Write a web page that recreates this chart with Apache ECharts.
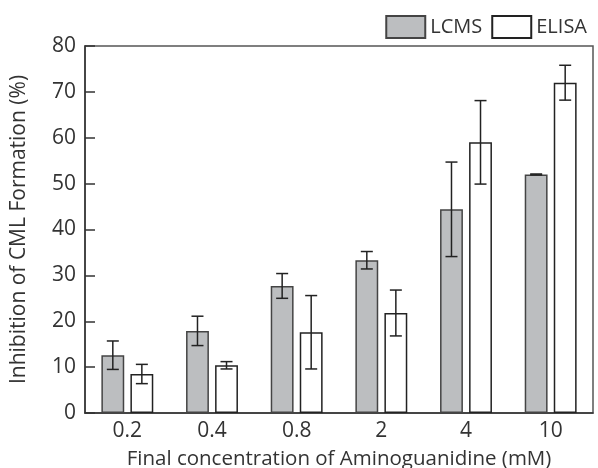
<!DOCTYPE html>
<html>
<head>
<meta charset="utf-8">
<script src="https://cdn.jsdelivr.net/npm/echarts@6/dist/echarts.min.js"></script>
<style>
  html, body { margin: 0; padding: 0; background: #fff; }
  #main { width: 598px; height: 468px; }
</style>
</head>
<body>
<div id="main"></div>
<script>
'use strict';

var categories = ['0.2', '0.4', '0.8', '2', '4', '10'];
var lcmsValues = [12.6, 17.9, 27.7, 33.3, 44.4, 52.0];
var lcmsErrors = [3.1, 3.2, 2.7, 1.9, 10.3, 0.1];
var elisaValues = [8.5, 10.4, 17.6, 21.8, 59.0, 72.0];
var elisaErrors = [2.1, 0.8, 8.0, 5.0, 9.1, 3.8];

var BAR_FRAC = 0.27;
var GAP_FRAC = 0.27;
var fontFam = '"Open Sans", "Noto Sans", sans-serif';

var errData = function (vals, errs, side) {
    var res = [];
    for (var i = 0; i < vals.length; i++) {
        res.push([i, vals[i], errs[i], side]);
    }
    return res;
};

var renderError = function (params, api) {
    var idx = api.value(0);
    var val = api.value(1);
    var err = api.value(2);
    var side = api.value(3);
    var band = api.size([1, 0])[0];
    var w = band * BAR_FRAC;
    var off = side * (w + w * GAP_FRAC) / 2;
    var hi = api.coord([idx, val + err]);
    var lo = api.coord([idx, val - err]);
    var x = hi[0] + off;
    var cap = 6;
    var style = { stroke: '#222', lineWidth: 1.5 };
    return {
        type: 'group',
        children: [
            { type: 'line', shape: { x1: x, y1: hi[1], x2: x, y2: lo[1] }, style: style },
            { type: 'line', shape: { x1: x - cap, y1: hi[1], x2: x + cap, y2: hi[1] }, style: style },
            { type: 'line', shape: { x1: x - cap, y1: lo[1], x2: x + cap, y2: lo[1] }, style: style }
        ]
    };
};

var myChart = echarts.init(document.getElementById('main'));

var option = {
    backgroundColor: '#fff',
    animation: false,
    textStyle: { fontFamily: fontFam },
    legend: {
        right: 6,
        top: 10,
        icon: 'rect',
        itemWidth: 39,
        itemHeight: 22,
        itemGap: 9,
        textStyle: { fontSize: 20, color: '#333', fontFamily: fontFam },
        data: ['LCMS', 'ELISA']
    },
    grid: {
        left: 85,
        right: 5,
        top: 46,
        bottom: 55,
        outerBoundsMode: 'none',
        containLabel: false,
        show: true,
        borderColor: '#555',
        borderWidth: 1.5
    },
    xAxis: {
        type: 'category',
        data: categories,
        name: 'Final concentration of Aminoguanidine (mM)',
        nameLocation: 'middle',
        nameGap: 36,
        nameTextStyle: { fontSize: 20.5, color: '#333', fontFamily: fontFam },
        axisLine: { lineStyle: { color: '#333', width: 1.5 } },
        axisTick: { show: false },
        axisLabel: { fontSize: 21, color: '#333', margin: 8, fontFamily: fontFam }
    },
    yAxis: {
        type: 'value',
        min: 0,
        max: 80,
        interval: 10,
        name: 'Inhibition of CML Formation (%)',
        nameLocation: 'middle',
        nameGap: 55,
        nameTextStyle: { fontSize: 21, color: '#333', fontFamily: fontFam },
        axisLine: { show: true, lineStyle: { color: '#333', width: 1.5 } },
        axisTick: { show: true, inside: true, length: 10, lineStyle: { color: '#333', width: 1.5 } },
        splitLine: { show: false },
        axisLabel: { fontSize: 21, color: '#333', margin: 9, fontFamily: fontFam }
    },
    series: [
        {
            name: 'LCMS',
            type: 'bar',
            data: lcmsValues,
            barWidth: (BAR_FRAC * 100) + '%',
            barGap: (GAP_FRAC * 100) + '%',
            itemStyle: { color: '#bcbec0', borderColor: '#444', borderWidth: 1.5 }
        },
        {
            name: 'ELISA',
            type: 'bar',
            data: elisaValues,
            barWidth: (BAR_FRAC * 100) + '%',
            barGap: (GAP_FRAC * 100) + '%',
            itemStyle: { color: '#fff', borderColor: '#222', borderWidth: 1.5 }
        },
        {
            type: 'custom',
            renderItem: renderError,
            data: errData(lcmsValues, lcmsErrors, -1),
            encode: { x: 0, y: 1 },
            z: 10
        },
        {
            type: 'custom',
            renderItem: renderError,
            data: errData(elisaValues, elisaErrors, 1),
            encode: { x: 0, y: 1 },
            z: 10
        }
    ]
};

myChart.setOption(option);
</script>
</body>
</html>
